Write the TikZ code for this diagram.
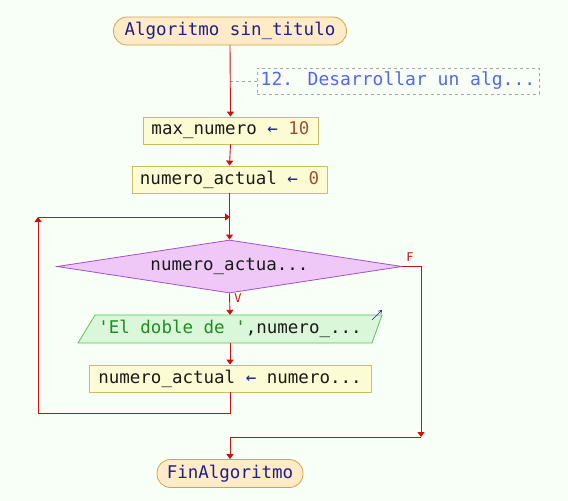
\documentclass[tikz,border=0pt]{standalone}
\usepackage{fontspec}
\setmainfont{DejaVu Sans Mono}[Ligatures=TeXOff]
\usetikzlibrary{arrows.meta,shapes.geometric,calc}
\definecolor{bg}{HTML}{F7FFF7}
\definecolor{termfill}{HTML}{FFEBC8}
\definecolor{termdraw}{HTML}{D4A050}
\definecolor{boxfill}{HTML}{FCFCD4}
\definecolor{boxdraw}{HTML}{C8C060}
\definecolor{difill}{HTML}{F0C8F8}
\definecolor{didraw}{HTML}{A050D0}
\definecolor{iofill}{HTML}{DAF7DA}
\definecolor{iodraw}{HTML}{60C060}
\definecolor{flow}{HTML}{CC1010}
\definecolor{navy}{HTML}{1E1E8C}
\definecolor{numc}{HTML}{A05030}
\definecolor{cmt}{HTML}{5566EE}
\definecolor{strc}{HTML}{1E8C1E}
\definecolor{txt}{HTML}{1A1A1A}
\tikzset{
  every node/.style={font=\fontsize{17.5}{20}\selectfont,text=txt},
  term/.style={draw=termdraw,fill=termfill,rounded corners=13.5pt,minimum height=28pt,inner sep=0pt,text=navy,line width=0.8pt},
  asgbox/.style={draw=boxdraw,fill=boxfill,minimum height=27pt,inner sep=0pt,line width=0.8pt},
  flowline/.style={draw=flow,line width=0.9pt},
  tip/.style={-{Triangle[length=5pt,width=7pt]}},
  lbl/.style={text=flow,font=\fontsize{12}{13}\selectfont,inner sep=0pt},
}
\begin{document}
\begin{tikzpicture}[x=1pt,y=-1pt]
\useasboundingbox[fill=bg] (0,0) rectangle (568,501);
% nodes
\node[term,minimum width=233pt] (start) at (230,31) {Algoritmo sin\_titulo};
\node[draw=gray!70,dashed,minimum width=282pt,minimum height=26pt,inner sep=0pt,text=cmt,font=\fontsize{18}{20}\selectfont] (cm) at (398,81) {12. Desarrollar un alg...};
\node[asgbox,minimum width=175pt] (a1) at (230.5,130.5) {max\_numero {\color{navy}←} {\color{numc}10}};
\node[asgbox,minimum width=195pt] (a2) at (229.5,179.5) {numero\_actual {\color{navy}←} {\color{numc}0}};
\node[diamond,draw=didraw,fill=difill,line width=0.8pt,inner sep=0pt,minimum width=345pt,minimum height=53pt,aspect=6.5] (d) at (229.5,266.5) {numero\_actua...};
\fill[iofill] (95,315) -- (382,315) -- (372,343) -- (78,343) -- cycle;
\draw[iodraw,line width=0.8pt] (95,315) -- (382,315) -- (372,343) -- (78,343) -- cycle;
\node[inner sep=0pt,minimum width=290pt,minimum height=28pt] (io) at (230,329) {{\color{strc}'El doble de '},numero\_...};
\node[asgbox,minimum width=282pt] (a3) at (230,378.5) {numero\_actual {\color{navy}←} numero...};
\node[term,minimum width=146pt] (fin) at (230,473.5) {FinAlgoritmo};
% io icon
\coordinate (ic1) at (372,320);
\coordinate (ic2) at (382,310);
\draw[navy,line width=0.6pt,-{Straight Barb[length=3pt,width=4pt]}] (ic1) -- (ic2);
% comment connector
\coordinate (cj) at (230,81);
\draw[gray!70,dashed,line width=0.6pt] (cj) -- (cm.west);
% flow
\draw[flowline,tip] (start.south) -- (a1.north);
\draw[flowline,tip] (a1.south) -- (a2.north);
\draw[flowline,tip] (a2.south) -- (d.north);
\draw[flowline,tip] (d.south) -- (io.north);
\node[lbl] (v) at (238,298) {V};
\draw[flowline,tip] (io.south) -- (a3.north);
\coordinate (l1) at (230,413);
\coordinate (l2) at (38,413);
\coordinate (l3) at (38,217);
\coordinate (l4) at (230,217);
\draw[flowline,tip] (a3.south) -- (l1) -- (l2) -- (l3);
\draw[flowline,tip] (l3) -- (l4);
\coordinate (f1) at (421,266.5);
\coordinate (f2) at (421,437);
\coordinate (f3) at (230,437);
\node[lbl] (fl) at (410,257) {F};
\draw[flowline,tip] (d.east) -- (f1) -- (f2);
\draw[flowline,tip] (f2) -- (f3) -- (fin.north);
\end{tikzpicture}
\end{document}
